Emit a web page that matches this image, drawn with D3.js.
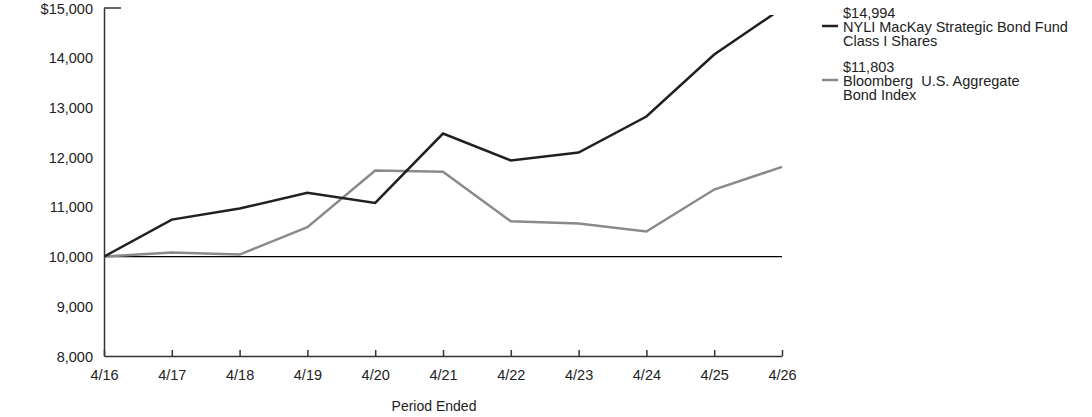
<!DOCTYPE html>
<html lang="en">
<head>
<meta charset="utf-8">
<title>Growth of $10,000</title>
<script src="https://d3js.org/d3.v7.min.js"></script>
<style>
  body { margin: 0; background: #fff; }
  svg text { font-family: "Liberation Sans", Arial, sans-serif; fill: #222; white-space: pre; }
  .axis text { font-size: 14.5px; }
  .legend text { font-size: 14.5px; }
</style>
</head>
<body>
<div id="chart"></div>
<script>
// data
var periods = ["4/16","4/17","4/18","4/19","4/20","4/21","4/22","4/23","4/24","4/25","4/26"];
var fundValues = [10000, 10744, 10966, 11282, 11080, 12475, 11932, 12093, 12817, 14064, 14994];
var indexValues = [10000, 10080, 10040, 10590, 11730, 11704, 10710, 10664, 10503, 11348, 11803];
var yTicks = [8000, 9000, 10000, 11000, 12000, 13000, 14000, 15000];

var series = [
  { name: ["$14,994", "NYLI MacKay Strategic Bond Fund", "Class I Shares"], values: fundValues, color: "#231f20" },
  { name: ["$11,803", "Bloomberg  U.S. Aggregate", "Bond Index"], values: indexValues, color: "#8a8a8a" }
];

var width = 1092, height = 417;
var margin = { top: 8, left: 104, right: 310, bottom: 61 };

var svg = d3.select("#chart").append("svg")
    .attr("width", width)
    .attr("height", height);

var x = d3.scalePoint()
    .domain(periods)
    .range([margin.left, width - margin.right]);

var y = d3.scaleLinear()
    .domain([8000, 15000])
    .range([height - margin.bottom, margin.top]);

// plot area clip (top edge of the lines is cut a little in the original)
svg.append("clipPath").attr("id", "plot")
  .append("rect")
    .attr("x", margin.left).attr("y", 15)
    .attr("width", width - margin.left - margin.right + 2)
    .attr("height", height - margin.bottom - 15);

// y axis
var yAxis = svg.append("g")
    .attr("class", "axis")
    .attr("transform", "translate(" + margin.left + ",0)")
    .call(d3.axisLeft(y).tickValues(yTicks).tickSize(0).tickPadding(11)
      .tickFormat(function(d) { return d === 15000 ? "$15,000" : d3.format(",")(d); }));
yAxis.select(".domain").attr("stroke", "#333").attr("stroke-width", 1.5);
yAxis.selectAll("text").attr("dy", "0.35em");

// small cap at top of y axis
svg.append("line")
    .attr("x1", margin.left).attr("x2", margin.left + 17)
    .attr("y1", y(15000)).attr("y2", y(15000))
    .attr("stroke", "#333").attr("stroke-width", 1.5);

// x axis, ticks pointing up
var xAxis = svg.append("g")
    .attr("class", "axis")
    .attr("transform", "translate(0," + y(8000) + ")")
    .call(d3.axisBottom(x).tickSize(-6).tickSizeOuter(0).tickPadding(14));
xAxis.select(".domain").attr("stroke", "#333").attr("stroke-width", 1.5);
xAxis.selectAll(".tick line").attr("stroke", "#333").attr("stroke-width", 1.5);

svg.append("text")
    .attr("x", 434).attr("y", 411)
    .attr("text-anchor", "middle")
    .style("font-size", "14px")
    .text("Period Ended");

// baseline at 10,000
svg.append("line")
    .attr("x1", x(periods[0])).attr("x2", x(periods[periods.length - 1]))
    .attr("y1", y(10000)).attr("y2", y(10000))
    .attr("stroke", "#000").attr("stroke-width", 1.2);

var line = d3.line()
    .x(function(d, i) { return x(periods[i]); })
    .y(function(d) { return y(d); });

// draw index first so the fund line sits on top
series.slice().reverse().forEach(function(s) {
  svg.append("path")
      .datum(s.values)
      .attr("clip-path", "url(#plot)")
      .attr("fill", "none")
      .attr("stroke", s.color)
      .attr("stroke-width", 2.5)
      .attr("stroke-linejoin", "miter")
      .attr("d", line);
});

// legend
var legend = svg.append("g").attr("class", "legend");
var legendY = [13, 67];
series.forEach(function(s, i) {
  var g = legend.append("g").attr("transform", "translate(0," + legendY[i] + ")");
  g.append("line")
      .attr("x1", 822).attr("x2", 838)
      .attr("y1", 13).attr("y2", 13)
      .attr("stroke", s.color).attr("stroke-width", 2.5);
  s.name.forEach(function(t, j) {
    g.append("text")
        .attr("x", 843)
        .attr("y", j * 14)
        .attr("dy", "0.35em")
        .text(t);
  });
});
</script>
</body>
</html>
